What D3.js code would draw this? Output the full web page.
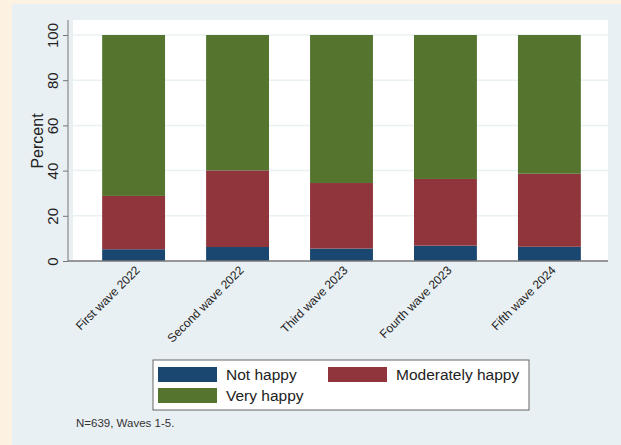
<!DOCTYPE html>
<html lang="en">
<head>
<meta charset="UTF-8">
<title>Happiness by wave</title>
<script src="https://d3js.org/d3.v7.min.js"></script>
<style>
    body { margin: 0; padding: 0; background: #fdf1e2; }
    svg { display: block; font-family: Arial, "Liberation Sans", sans-serif; }
</style>
</head>
<body>
<svg width="621" height="445"></svg>
<script>
    // data (percent)
    const waves = ["First wave 2022", "Second wave 2022", "Third wave 2023", "Fourth wave 2023", "Fifth wave 2024"];
    const notHappy = [5.2, 6.2, 5.5, 6.8, 6.3];
    const moderatelyHappy = [23.6, 33.9, 29.0, 29.5, 32.3];
    const veryHappy = [71.2, 59.9, 65.5, 63.7, 61.4];
    const seriesNames = ["Not happy", "Moderately happy", "Very happy"];
    const seriesColors = ["#1a476f", "#90353b", "#55752f"];
    const yTicks = [0, 20, 40, 60, 80, 100];

    const svg = d3.select("svg");

    // stata-style graph region
    svg.append("rect").attr("x", 12).attr("y", 4).attr("width", 609).attr("height", 441).attr("fill", "#e9f0f3");
    svg.append("rect").attr("x", 73).attr("y", 20).attr("width", 535).attr("height", 241).attr("fill", "#fff");

    const x = d3.scaleBand().domain(waves).range([72, 611]).paddingInner(0.395).paddingOuter(0.29);
    const y = d3.scaleLinear().domain([0, 100]).range([261, 35]);

    // gridlines
    svg.append("g").selectAll("line").data(yTicks.slice(1)).join("line")
        .attr("x1", 73).attr("x2", 608)
        .attr("y1", d => y(d)).attr("y2", d => y(d))
        .attr("stroke", "#eaf1f3").attr("stroke-width", 1.5);

    const rows = waves.map((w, i) => ({ wave: w, "Not happy": notHappy[i], "Moderately happy": moderatelyHappy[i], "Very happy": veryHappy[i] }));
    const stacked = d3.stack().keys(seriesNames)(rows);

    svg.append("g").selectAll("g").data(stacked).join("g")
        .attr("fill", (d, i) => seriesColors[i])
        .selectAll("rect").data(d => d).join("rect")
        .attr("x", d => x(d.data.wave))
        .attr("width", x.bandwidth())
        .attr("y", d => y(d[1]))
        .attr("height", d => y(d[0]) - y(d[1]));

    // y axis
    const yAxis = svg.append("g").attr("transform", "translate(68,0)")
        .call(d3.axisLeft(y).tickValues(yTicks).tickSize(5).tickPadding(4));
    yAxis.select(".domain").attr("d", "M0,20V261").attr("stroke", "#777");
    yAxis.selectAll(".tick line").attr("stroke", "#777");
    yAxis.selectAll(".tick text")
        .attr("transform", "rotate(-90)")
        .attr("x", 0).attr("y", -10)
        .attr("dy", 0)
        .attr("text-anchor", "middle")
        .attr("font-size", 15).attr("fill", "#222");

    svg.append("text")
        .attr("transform", "translate(43,141) rotate(-90)")
        .attr("text-anchor", "middle")
        .attr("font-size", 16).attr("fill", "#222")
        .text("Percent");

    // x axis
    const xAxis = svg.append("g").attr("transform", "translate(0,261)")
        .call(d3.axisBottom(x).tickSize(0).tickPadding(4));
    xAxis.select(".domain").attr("d", "M68,0H608").attr("stroke", "#777").attr("stroke-width", 1.5);
    xAxis.selectAll(".tick text")
        .attr("transform", "translate(4,7) rotate(-45)")
        .attr("x", 0).attr("y", 0).attr("dy", "0.35em")
        .attr("text-anchor", "end")
        .attr("font-size", 12).attr("fill", "#222");

    // legend
    const lg = svg.append("g");
    lg.append("rect").attr("x", 153).attr("y", 360).attr("width", 376).attr("height", 50)
        .attr("fill", "#fff").attr("stroke", "#666").attr("stroke-width", 1);
    const legendPos = [[158, 367], [328, 367], [158, 388]];
    seriesNames.forEach((name, i) => {
        const [lx, ly] = legendPos[i];
        lg.append("rect").attr("x", lx).attr("y", ly).attr("width", 59).attr("height", 15).attr("fill", seriesColors[i]);
        lg.append("text").attr("x", lx + 68).attr("y", ly + 13)
            .attr("font-size", 15.5).attr("fill", "#222").text(name);
    });

    svg.append("text").attr("x", 76).attr("y", 427)
        .attr("font-size", 11.5).attr("fill", "#333")
        .text("N=639, Waves 1-5.");
</script>
</body>
</html>
